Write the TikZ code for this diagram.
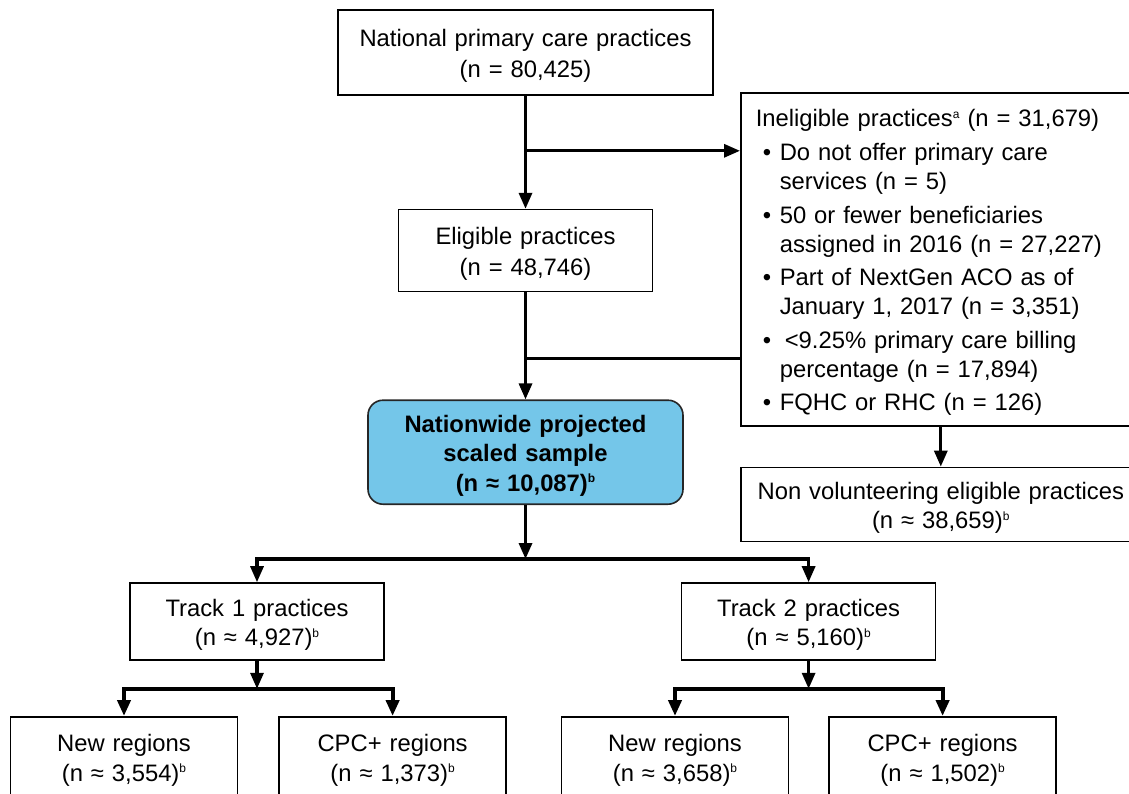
\documentclass[tikz,border=0pt]{standalone}
\usepackage{fontspec}
\setmainfont{Liberation Sans}
\usepackage{xcolor}
\usetikzlibrary{arrows.meta}
\usetikzlibrary{positioning}
\definecolor{azulclaro}{HTML}{74C6E9}
\tikzset{
  caixa/.style={draw, line width=0.8pt, align=center, text width=#1, minimum height=38.5pt, inner sep=3pt, font=\fontsize{11.9pt}{14.75pt}\selectfont, execute at begin node={\rule{0pt}{12pt}}},
  caixa/.default=121pt,
  destaque/.style={caixa=151.5pt, minimum height=52pt, rounded corners=7.5pt, fill=azulclaro, draw=black!85, font=\fontsize{11.9pt}{14.75pt}\selectfont\bfseries},
  seta/.style={-{Triangle[length=8pt,width=6.5pt]}, line width=1.6pt},
  linha/.style={line width=1.6pt},
  grossa/.style={line width=2pt},
}
\newcommand{\marca}{\hspace*{3.5pt}\makebox[8.5pt][l]{\textbullet}}
\newcommand{\recuo}{\hspace*{12pt}}
\newcommand{\sobrescrito}[1]{\raisebox{4.3pt}{\fontsize{6pt}{6pt}\selectfont #1}}

\begin{document}
\begin{tikzpicture}[x=0.5pt, y=-0.5pt]
  \useasboundingbox (0,0) rectangle (1129,793);
  % coluna central
  \node[caixa=181.5pt, minimum height=42.5pt, font=\fontsize{11.9pt}{15.5pt}\selectfont] (nacional) at (525.5,52.5) {National primary care practices\\(n = 80,425)};
  \node[caixa, minimum height=41pt, font=\fontsize{11.9pt}{15.5pt}\selectfont, below=56.5pt of nacional] (elegiveis) {Eligible practices\\(n = 48,746)};
  \node[destaque, below=53.5pt of elegiveis] (amostra) {Nationwide projected\\scaled sample\\(n ≈ 10,087)\sobrescrito{b}};
  % coluna da direita
  \node[caixa=185pt, anchor=north west, minimum height=166.5pt, inner xsep=7.5pt, align=left, font=\fontsize{11.9pt}{14.5pt}\selectfont] (inelegiveis) at (740,92)
    {Ineligible practices\sobrescrito{a} (n = 31,679)\\[2.3pt]
     \marca Do not offer primary care\\ \recuo services (n = 5)\\[2.3pt]
     \marca 50 or fewer beneficiaries\\ \recuo assigned in 2016 (n = 27,227)\\[2.3pt]
     \marca Part of NextGen ACO as of\\ \recuo January 1, 2017 (n = 3,351)\\[2.3pt]
     \marca\hspace*{2.5pt}<9.25\% primary care billing\\ \recuo percentage (n = 17,894)\\[2.3pt]
     \marca FQHC or RHC (n = 126)};
  \node[caixa=194pt, minimum height=37pt, below=20pt of inelegiveis.south west, anchor=north west] (naovol) {Non volunteering eligible practices\\(n ≈ 38,659)\sobrescrito{b}};
  % trilhas
  \node[caixa] (trilha1) at (257,621.5) {Track 1 practices\\(n ≈ 4,927)\sobrescrito{b}};
  \node[caixa, right=148pt of trilha1] (trilha2) {Track 2 practices\\(n ≈ 5,160)\sobrescrito{b}};
  \node[caixa=107.5pt, minimum height=40pt, anchor=north] (novas1) at (124,716) {New regions\\(n ≈ 3,554)\sobrescrito{b}};
  \node[caixa=107.5pt, minimum height=40pt, right=20pt of novas1] (cpc1) {CPC+ regions\\(n ≈ 1,373)\sobrescrito{b}};
  \node[caixa=107.5pt, minimum height=40pt, anchor=north] (novas2) at (675,716) {New regions\\(n ≈ 3,658)\sobrescrito{b}};
  \node[caixa=107.5pt, minimum height=40pt, right=19.5pt of novas2] (cpc2) {CPC+ regions\\(n ≈ 1,502)\sobrescrito{b}};

  % ligacoes
  \coordinate[below=27.5pt of nacional.south] (ramo1);
  \coordinate[below=33pt of elegiveis.south] (ramo2);
  \coordinate[below=27pt of amostra.south] (barra);
  \coordinate[below=14pt of trilha1.south] (barra1);
  \coordinate[below=14pt of trilha2.south] (barra2);
  \draw[seta] (nacional) -- (elegiveis);
  \draw[seta] (ramo1) -- (ramo1 -| inelegiveis.west);
  \draw[seta] (elegiveis) -- (amostra);
  \draw[linha] (ramo2 -| inelegiveis.west) -- (ramo2);
  \draw[seta] (inelegiveis) -- (inelegiveis.south |- naovol.north);
  \draw[seta] (amostra) -- (barra);
  \draw[seta] (barra) -| (trilha1); \draw[seta] (barra) -| (trilha2);
  \draw[seta] (trilha1) -- (barra1); \draw[seta] (trilha2) -- (barra2);
  \draw[seta, grossa] (barra1) -| (novas1); \draw[seta, grossa] (barra1) -| (cpc1);
  \draw[seta, grossa] (barra2) -| (novas2); \draw[seta, grossa] (barra2) -| (cpc2);
\end{tikzpicture}
\end{document}
